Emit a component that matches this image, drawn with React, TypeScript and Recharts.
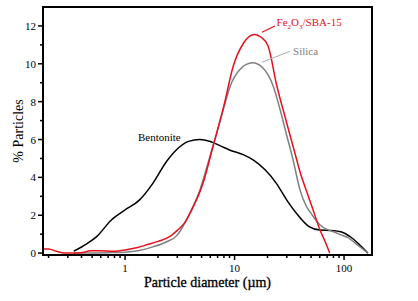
import React from 'react';
import {
  LineChart, Line, XAxis, YAxis, ReferenceArea, ReferenceLine, ReferenceDot
} from 'recharts';

// particle diameter (µm) / % particles
const bentoniteD = [0.34, 0.45, 0.55, 0.75, 1.0, 1.35, 1.8, 2.4, 3.0, 3.8, 4.8, 6.0, 7.5, 9.0, 12, 15, 19, 24, 30, 38, 48, 60, 75, 95, 115, 135, 165];
const bentoniteV = [0.1, 0.5, 0.87, 1.75, 2.28, 2.8, 3.7, 4.85, 5.5, 5.9, 6.0, 5.9, 5.65, 5.45, 5.2, 4.9, 4.4, 3.7, 2.8, 2.0, 1.4, 1.22, 1.2, 1.12, 0.85, 0.5, 0.0];

const silicaD = [0.34, 0.5, 0.7, 1.0, 1.3, 1.8, 2.4, 3.0, 3.6, 4.2, 4.8, 5.5, 6.2, 6.9, 8.0, 9.1, 11.2, 14.6, 18, 22.6, 26, 30, 34, 39.6, 45, 50, 60, 70, 80, 95, 110, 125, 140, 165];
const silicaV = [0.0, 0.0, 0.02, 0.05, 0.12, 0.33, 0.6, 0.95, 1.7, 2.5, 3.3, 4.4, 5.46, 6.36, 7.7, 8.8, 9.7, 10.05, 9.8, 8.8, 7.6, 6.2, 5.0, 3.34, 2.5, 2.1, 1.5, 1.25, 1.13, 0.95, 0.8, 0.55, 0.33, 0.0];

const fe2o3D = [0.178, 0.2, 0.24, 0.28, 0.34, 0.41, 0.48, 0.6, 0.78, 1.0, 1.3, 1.6, 2.0, 2.6, 3.0, 3.5, 4.0, 5.16, 6.4, 8.0, 9.75, 12.1, 15.2, 17.5, 20.2, 24.4, 28.9, 34.9, 39.6, 45.9, 52, 60.3, 67.3, 74];
const fe2o3V = [0.22, 0.22, 0.08, 0.0, 0.0, 0.03, 0.13, 0.13, 0.1, 0.17, 0.3, 0.45, 0.62, 0.9, 1.2, 1.6, 2.2, 3.7, 5.7, 7.8, 9.9, 11.1, 11.55, 11.4, 10.95, 8.8, 7.2, 5.46, 4.3, 3.2, 2.3, 1.22, 0.6, 0.0];

const xTicks = [0.2, 0.3, 0.4, 0.5, 0.6, 0.7, 0.8, 0.9, 1, 2, 3, 4, 5, 6, 7, 8, 9, 10, 20, 30, 40, 50, 60, 70, 80, 90, 100];
const xLabels = [1, 10, 100];
const yTicks = [0, 1, 2, 3, 4, 5, 6, 7, 8, 9, 10, 11, 12];
const yLabels = [0, 2, 4, 6, 8, 10, 12];

const toPoints = (d: number[], v: number[]) => d.map((x, i) => ({ d: x, v: v[i] }));

const bentonite = toPoints(bentoniteD, bentoniteV);
const silica = toPoints(silicaD, silicaV);
const fe2o3 = toPoints(fe2o3D, fe2o3V);

const font = '"Liberation Serif", serif';
const RED = '#e3121c';
const GRAY = '#808080';

const XTick = (props: any) => {
  const { x, y, payload } = props;
  const major = xLabels.includes(payload.value);
  return (
    <g>
      <line x1={x} x2={x} y1={y} y2={y + (major ? 5 : 3)} stroke="#000" strokeWidth={1.5} />
      {major && (
        <text x={x} y={y + 17} textAnchor="middle" fontSize={11} style={{ fontFamily: font }} fill="#000">
          {payload.value}
        </text>
      )}
    </g>
  );
};

const YTick = (props: any) => {
  const { x, y, payload } = props;
  const major = yLabels.includes(payload.value);
  return (
    <g>
      <line x1={x} x2={x - (major ? 5 : 3)} y1={y} y2={y} stroke="#000" strokeWidth={1.5} />
      {major && (
        <text x={x - 7} y={y + 4} textAnchor="end" fontSize={11} style={{ fontFamily: font }} fill="#000">
          {payload.value}
        </text>
      )}
    </g>
  );
};

const FeLabel = (props: any) => {
  const { viewBox } = props;
  return (
    <text x={viewBox.x} y={viewBox.y + 4} fontSize={11} style={{ fontFamily: font }} fill={RED}>
      Fe<tspan fontSize={7} dy={3}>2</tspan>
      <tspan dy={-3}>O</tspan>
      <tspan fontSize={7} dy={3}>3</tspan>
      <tspan dy={-3}>/SBA-15</tspan>
    </text>
  );
};

const TextLabel = (text: string, color: string) => (props: any) => {
  const { viewBox } = props;
  return (
    <text x={viewBox.x} y={viewBox.y + 4} fontSize={11} style={{ fontFamily: font }} fill={color}>
      {text}
    </text>
  );
};

const XTitle = (props: any) => {
  const { viewBox } = props;
  return (
    <text x={viewBox.x + viewBox.width / 2} y={viewBox.y + 32} textAnchor="middle" fontSize={14} stroke="#000" strokeWidth={0.3} style={{ fontFamily: font }} fill="#000">
      Particle diameter (µm)
    </text>
  );
};

const YTitle = (props: any) => {
  const { viewBox } = props;
  const cx = 23;
  const cy = viewBox.y + viewBox.height / 2;
  return (
    <text x={cx} y={cy} transform={`rotate(-90 ${cx} ${cy})`} textAnchor="middle" fontSize={14} style={{ fontFamily: font }} fill="#000">
      % Particles
    </text>
  );
};

export default function App() {
  return (
    <div style={{ position: 'absolute', left: 0, top: 0, background: '#fff' }}>
      <LineChart width={418} height={301} margin={{ top: 7, right: 46, bottom: 0, left: 0 }}>
        <XAxis
          type="number"
          dataKey="d"
          scale="log"
          domain={[0.178, 180]}
          allowDataOverflow
          ticks={xTicks}
          interval={0}
          tick={<XTick />}
          tickSize={0}
          tickMargin={0}
          tickLine={false}
          height={46}
          axisLine={{ stroke: '#000', strokeWidth: 2 }}
          label={<XTitle />}
        />
        <YAxis
          type="number"
          dataKey="v"
          domain={[-0.1, 13]}
          allowDataOverflow
          ticks={yTicks}
          interval={0}
          tick={<YTick />}
          tickSize={0}
          tickMargin={0}
          tickLine={false}
          width={43}
          axisLine={{ stroke: '#000', strokeWidth: 2 }}
          label={<YTitle />}
        />
        <ReferenceArea x1={0.178} x2={180} y1={-0.1} y2={13} fill="none" stroke="#000" strokeWidth={2} ifOverflow="visible" />
        <Line data={bentonite} dataKey="v" type="monotone" stroke="#000" strokeWidth={1.5} dot={false} isAnimationActive={false} />
        <Line data={silica} dataKey="v" type="monotone" stroke={GRAY} strokeWidth={1.5} dot={false} isAnimationActive={false} />
        <Line data={fe2o3} dataKey="v" type="monotone" stroke={RED} strokeWidth={1.5} dot={false} isAnimationActive={false} />
        <ReferenceLine segment={[{ x: 17.8, y: 11.67 }, { x: 23.4, y: 12.0 }]} stroke={RED} strokeWidth={1.2} />
        <ReferenceLine segment={[{ x: 17.8, y: 10.08 }, { x: 32, y: 10.66 }]} stroke="#aaa" strokeWidth={1} />
        <ReferenceDot x={24.2} y={12.2} r={0} fill="none" stroke="none" label={FeLabel} />
        <ReferenceDot x={34.2} y={10.66} r={0} fill="none" stroke="none" label={TextLabel('Silica', GRAY)} />
        <ReferenceDot x={1.31} y={6.15} r={0} fill="none" stroke="none" label={TextLabel('Bentonite', '#000')} />
      </LineChart>
    </div>
  );
}
